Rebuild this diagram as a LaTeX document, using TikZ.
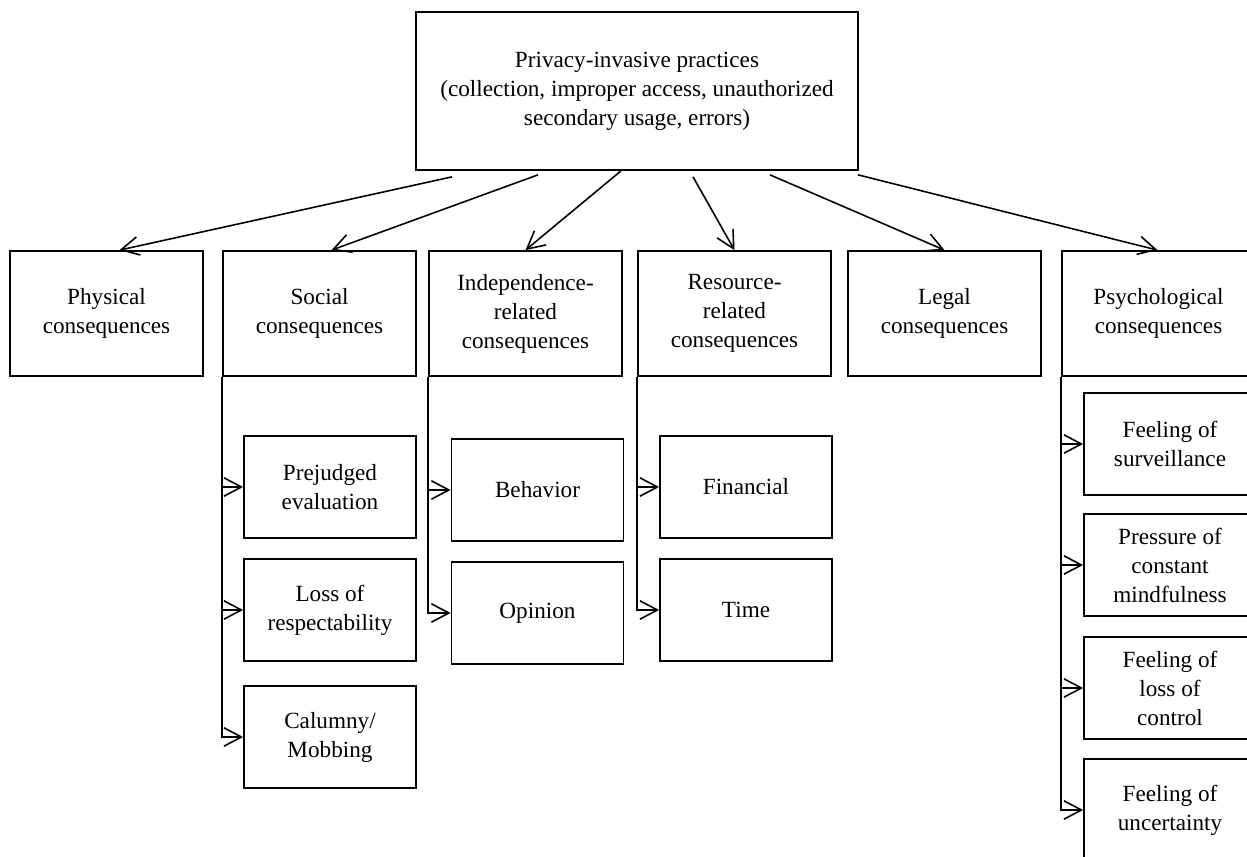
\documentclass[tikz,border=0pt]{standalone}
\usepackage{fontspec}
\setmainfont{Liberation Serif}
\usetikzlibrary{arrows.meta,calc}
\begin{document}
\begin{tikzpicture}[x=0.02cm, y=-0.02cm,
	box/.style={draw, line width=1pt, align=center, inner sep=0pt, font=\fontsize{13.2}{16.5}\selectfont},
	main/.style={box, minimum width=3.86cm, minimum height=2.5cm},
	sub/.style={box, minimum width=3.44cm, minimum height=2.04cm},
	link/.style={-{Straight Barb[length=10pt,width=10.5pt]}, line width=0.9pt}]
	\useasboundingbox (0,0) rectangle (1247,857);
	\node [box, minimum width=8.84cm, minimum height=3.16cm] (top) at (637,91) {Privacy-invasive practices\\ (collection, improper access, unauthorized\\ secondary usage, errors)};
	% first level
	\node [main] (phys) at (106.5,313.5) {Physical\\ consequences};
	\node [main] (soc) at (319.5,313.5) {Social\\ consequences};
	\node [main] (ind) at (525.5,313.5) {Independence-\\ related\\ consequences};
	\node [main] (res) at (734.5,313.5) {Resource-\\ related\\ consequences};
	\node [main] (leg) at (944.5,313.5) {Legal\\ consequences};
	\node [main] (psy) at (1158.5,313.5) {Psychological\\ consequences};
	% second level
	\node [sub] (pre) at (330,487) {Prejudged\\ evaluation};
	\node [sub] (los) at (330,610) {Loss of\\ respectability};
	\node [sub] (cal) at (330,737) {Calumny/\\ Mobbing};
	\node [sub] (beh) at (537.5,490) {Behavior};
	\node [sub] (opi) at (537.5,613) {Opinion};
	\node [sub] (fin) at (746,487) {Financial};
	\node [sub] (tim) at (746,610) {Time};
	\node [sub] (sur) at (1170,444) {Feeling of\\ surveillance};
	\node [sub] (prs) at (1170,565) {Pressure of\\ constant\\ mindfulness};
	\node [sub] (loc) at (1170,688) {Feeling of\\ loss of\\ control};
	\node [sub] (unc) at (1170,810) {Feeling of\\ uncertainty};
	% arrows
	\foreach \dx/\dy/\t/\ex in {-185/6/phys/13, -99/4/soc/12, -16/0/ind/0, 56/6/res/0, 133/4/leg/0, 221/4/psy/-1}{
	\draw [link] ($(top.south)+(\dx,\dy)$) -- ($(\t.north)+(\ex,0)$);
	}
	\foreach \p/\c in {soc/pre, soc/los, soc/cal, ind/beh, ind/opi, res/fin, res/tim, psy/sur, psy/prs, psy/loc, psy/unc}{
	\draw [link] (\p.south west) |- (\c.west);
	}
\end{tikzpicture}
\end{document}
